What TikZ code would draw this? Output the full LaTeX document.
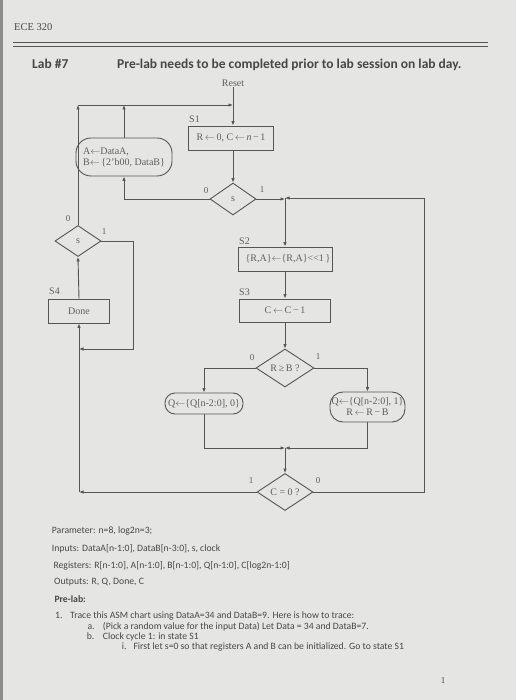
\documentclass[tikz,border=0pt]{standalone}
\usepackage{fontspec}
\setmainfont{Liberation Serif}
\newfontfamily\calib{Carlito}
\usetikzlibrary{shapes.geometric,arrows.meta}
\definecolor{bg}{HTML}{E5E5E3}
\definecolor{edgec}{HTML}{8C8C8A}
\definecolor{lc}{HTML}{555555}
\definecolor{tc}{HTML}{5E5E5E}
\definecolor{btc}{HTML}{474747}
\newcommand{\la}{\ensuremath{\leftarrow}}
\begin{document}
\begin{tikzpicture}[x=1pt,y=-1pt,
 ln/.style={draw=lc,line width=0.9pt},
 arr/.style={ln,-{Latex[length=4.5pt,width=3.6pt]}},
 dt/.style={font=\fontsize{10}{11}\selectfont,text=tc},
 sbox/.style={ln,rectangle,inner sep=0pt,dt},
 rbox/.style={ln,rectangle,inner sep=0pt,dt,rounded corners=#1},
 dia/.style={ln,diamond,inner sep=0pt,dt},
 lbl/.style={font=\fontsize{9}{10}\selectfont,text=tc,inner sep=0pt},
 btxt/.style={font=\calib\fontsize{9.7}{11}\selectfont,text=btc,anchor=base west,inner sep=0pt},
 head/.style={font=\calib\bfseries\fontsize{13.5}{15}\selectfont,text=btc,anchor=base west,inner sep=0pt}
]
\fill[bg] (0,0) rectangle (516,700);
\fill[edgec] (0,0) rectangle (2.5,700);
\useasboundingbox (0,0) rectangle (516,700);

% header
\node[font=\fontsize{10.5}{12}\selectfont,text=btc,anchor=base west,inner sep=0pt] (ece) at (14,31) {ECE 320};
\draw[draw=lc,line width=1.5pt] (13,42.5) -- (488,42.5);
\draw[draw=lc,line width=0.8pt] (13,46.5) -- (488,46.5);
\node[head] (lab) at (32,68.5) {Lab \#7};
\node[head] (pre) at (117,68.5) {Pre-lab needs to be completed prior to lab session on lab day.};

% diagram nodes
\node[dt,inner sep=0pt,anchor=base] (reset) at (233,87) {Reset};
\node[sbox,minimum width=85pt,minimum height=24pt] (s1) at (231,138) {R\,\la\,0, C\,\la\,\textit{n}\,−\,1};
\node[dia,minimum width=46pt,minimum height=32pt] (d1) at (233,199) {s};
\node[rbox=15pt,minimum width=96pt,minimum height=38pt,align=left] (ab) at (124,157) {A\la DataA,\\B\la\,\{2'b00, DataB\}};
\node[sbox,minimum width=94pt,minimum height=24pt] (s2) at (285,259) {\hspace*{6pt}\{R,A\}\la\{R,A\}{<}{<}1\,\}};
\node[sbox,minimum width=91pt,minimum height=23pt] (s3) at (285,310.5) {C\,\la\,C\,−\,1};
\node[dia,minimum width=58pt,minimum height=38pt] (d2) at (285,368) {R\,≥\,B ?};
\node[rbox=10pt,minimum width=78pt,minimum height=21pt] (q0) at (204,403.5) {Q\la\{Q[n-2:0], 0\}};
\node[rbox=13pt,minimum width=75pt,minimum height=30pt,align=center] (q1) at (367.5,407) {Q\la\{Q[n-2:0], 1\}\\R\,\la\,R\,−\,B};
\node[dia,minimum width=56pt,minimum height=37pt] (d3) at (285,492) {C = 0 ?};
\node[dia,minimum width=46pt,minimum height=31pt] (d4) at (78,241) {s};
\node[sbox,minimum width=61pt,minimum height=24pt] (done) at (79,311) {Done};

% state labels
\node[dt,anchor=south west,inner sep=0pt] (l1) at (189,123) {S1};
\node[dt,anchor=south west,inner sep=0pt] (l2) at (239,245) {S2};
\node[dt,anchor=south west,inner sep=0pt] (l3) at (239,296) {S3};
\node[dt,anchor=south west,inner sep=0pt] (l4) at (49,295) {S4};

% junctions
\coordinate (topJ) at (233,105);
\coordinate (J1) at (285,198);
\coordinate (J2) at (285,448);
\coordinate (rt) at (424,198);
\coordinate (rb) at (424,492);
\coordinate (lp) at (133,349);

% connectors
\draw[arr] (reset.south -| topJ) -- (s1.north -| topJ);
\draw[arr] (s1.south -| d1) -- (d1.north);
\draw[arr] (d1.west) -| (ab.south);
\draw[arr] (ab.north) -- (ab.north |- topJ);
\draw[arr] (d4.north) -- (d4.north |- topJ);
\draw[arr] (d4.north |- topJ) -- (topJ);
\draw[arr] (d1.east) -- (d1.east -| J1);
\draw[arr] (d3.east) -- (rb) -- (rt) -- (J1);
\draw[arr] (J1) -- (s2.north);
\draw[arr] (s2.south) -- (s3.north);
\draw[arr] (s3.south) -- (d2.north);
\draw[arr] (d2.west) -| (q0.north);
\draw[arr] (d2.east) -| (q1.north);
\draw[arr] (q0.south) |- (J2);
\draw[arr] (q1.south) |- (J2);
\draw[arr] (J2) -- (d3.north);
\draw[arr] (d3.west) -- (d3.west -| done.south);
\draw[arr] (d3.west -| done.south) -- (done.south);
\draw[arr] (d4.east) -| (lp) -- (lp -| done.south);
\draw[arr] (done.north) -- (d4.south);

% branch labels
\node[lbl] at (206,191) {0};
\node[lbl] at (262,190) {1};
\node[lbl] at (68,219) {0};
\node[lbl] at (104,232) {1};
\node[lbl] at (252,358) {0};
\node[lbl] at (318,357) {1};
\node[lbl] at (251,481) {1};
\node[lbl] at (318,481) {0};

% bottom text
\node[btxt] (t1) at (51.7,533.5) {Parameter: n=8, log2n=3;};
\node[btxt] (t2) at (51.7,551) {Inputs: DataA[n-1:0], DataB[n-3:0], s, clock};
\node[btxt] (t3) at (53.3,568.5) {Registers: R[n-1:0], A[n-1:0], B[n-1:0], Q[n-1:0], C[log2n-1:0]};
\node[btxt] (t4) at (54,584.5) {Outputs: R, Q, Done, C};
\node[btxt,font=\calib\bfseries\fontsize{9.7}{11}\selectfont] (t5) at (54.3,602) {Pre-lab:};
\node[btxt] (n1) at (55,618) {1.};
\node[btxt] (t6) at (70,618) {Trace this ASM chart using DataA=34 and DataB=9. Here is how to trace:};
\node[btxt] (na) at (87.3,629.5) {a.};
\node[btxt] (t7) at (102.7,629.5) {(Pick a random value for the input Data) Let Data = 34 and DataB=7.};
\node[btxt] (nb) at (86.7,639) {b.};
\node[btxt] (t8) at (102.7,639) {Clock cycle 1: in state S1};
\node[btxt] (ni) at (121.7,649.5) {i.};
\node[btxt] (t9) at (133.3,649.5) {First let s=0 so that registers A and B can be initialized. Go to state S1};
\node[font=\fontsize{9}{10}\selectfont,text=btc,anchor=base,inner sep=0pt] (pg) at (443,683) {1};
\end{tikzpicture}
\end{document}
